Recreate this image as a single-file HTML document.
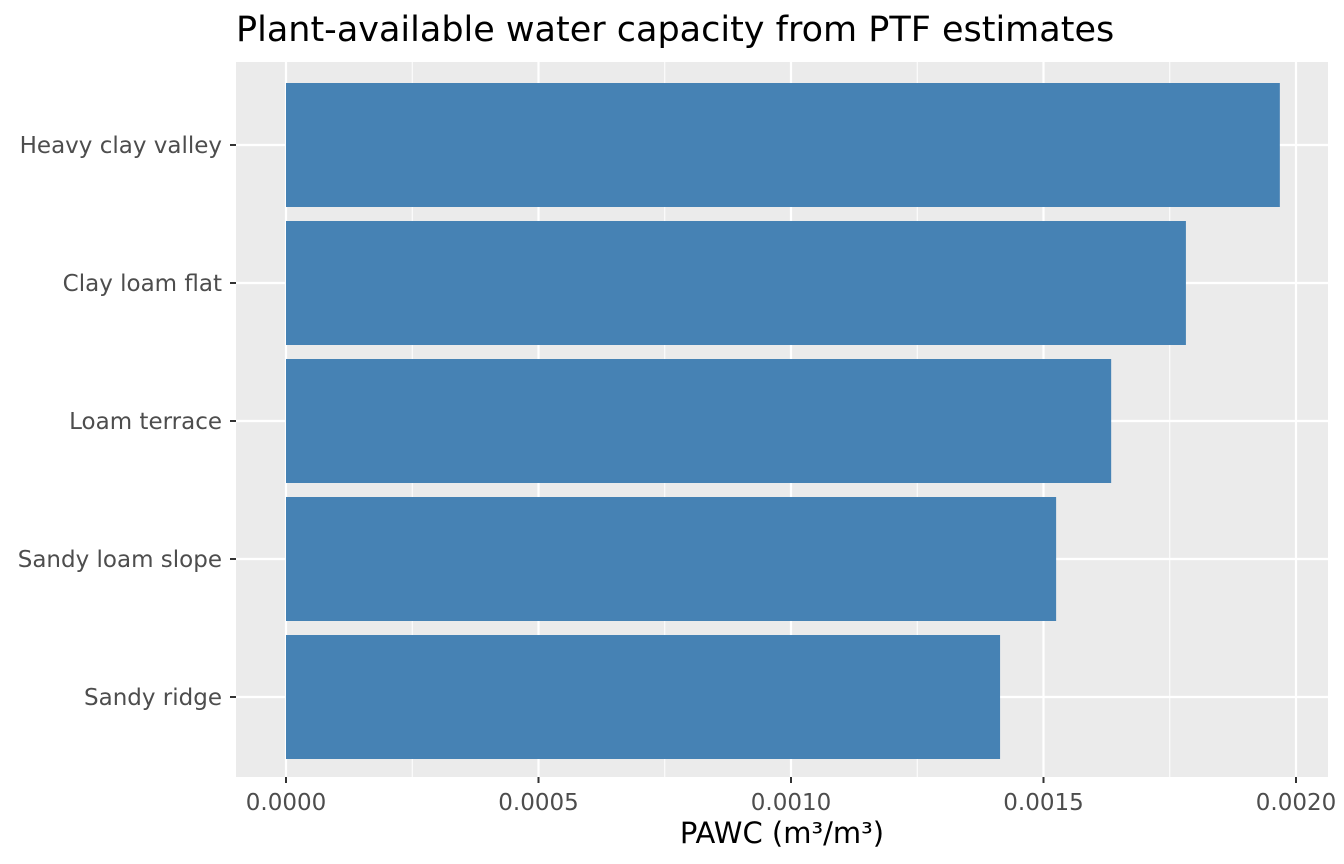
<!DOCTYPE html>
<html><head><meta charset="utf-8"><style>
body{margin:0;background:#fff;}
svg{display:block;font-family:"Liberation Sans","DejaVu Sans",sans-serif;}
</style></head><body>
<svg id="chart" width="1344" height="864">
<text x="236" y="41" font-size="35" fill="#000" font-family="DejaVu Sans, sans-serif">Plant-available water capacity from PTF estimates</text>
<rect x="236" y="62" width="1092" height="715" fill="#ebebeb"/>
<g id="grid"></g><g id="bars"></g><g id="axes"></g>
<text x="782" y="843" font-size="29" text-anchor="middle" fill="#000" font-family="DejaVu Sans, sans-serif">PAWC (m³/m³)</text>
</svg>
<script>
const categories=["Heavy clay valley","Clay loam flat","Loam terrace","Sandy loam slope","Sandy ridge"];
const values=[0.001968,0.001782,0.001634,0.001525,0.001414];
const xTicks=[0,0.0005,0.001,0.0015,0.002];
const xTickLabels=["0.0000","0.0005","0.0010","0.0015","0.0020"];
const NS="http://www.w3.org/2000/svg";
const x=v=>286+v*505000;
const y=i=>145+i*138;
const bw=124;
function mk(t,a,p){const e=document.createElementNS(NS,t);for(const k in a)e.setAttribute(k,a[k]);p.appendChild(e);return e;}
const grid=document.getElementById('grid'),bars=document.getElementById('bars'),axes=document.getElementById('axes');
for(let i=0;i<xTicks.length-1;i++){const m=(xTicks[i]+xTicks[i+1])/2;
const l=mk('line',{x1:x(m),x2:x(m),y1:62,y2:777,stroke:'#fff','stroke-width':1},grid);
}
xTicks.forEach((t,i)=>{const l=mk('line',{x1:x(t),x2:x(t),y1:62,y2:777,stroke:'#fff','stroke-width':2.2},grid);

const tk=mk('line',{x1:x(t),x2:x(t),y1:777,y2:783,stroke:'#333','stroke-width':2},axes);

const tx=mk('text',{x:x(t),y:810,'font-size':23,'text-anchor':'middle',fill:'#4d4d4d','font-family':'DejaVu Sans, sans-serif'},axes);
tx.textContent=xTickLabels[i];});
categories.forEach((c,i)=>{const l=mk('line',{x1:236,x2:1328,y1:y(i),y2:y(i),stroke:'#fff','stroke-width':2.2},grid);

const r=mk('rect',{x:x(0),y:y(i)-bw/2,width:x(values[i])-x(0),height:bw,fill:'#4682b4'},bars);

const tk=mk('line',{x1:230,x2:236,y1:y(i),y2:y(i),stroke:'#333','stroke-width':2},axes);

const tx=mk('text',{x:222,y:y(i)+8,'font-size':23,'text-anchor':'end',fill:'#4d4d4d','font-family':'DejaVu Sans, sans-serif'},axes);
tx.textContent=c;});
</script>
</body></html>
